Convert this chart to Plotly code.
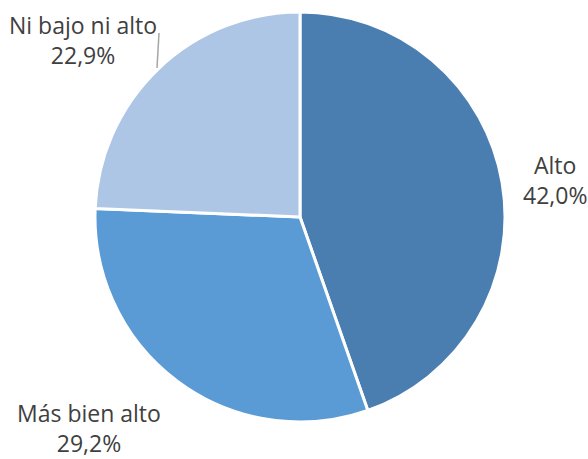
import plotly.graph_objects as go

labels = ["Alto", "Más bien alto", "Ni bajo ni alto"]
values = [42.0, 29.2, 22.9]
text_values = ["42,0%", "29,2%", "22,9%"]
colors = ["#4a7eb1", "#5b9bd5", "#adc6e6"]

W, H = 588, 459

def px_x(x):
    return x / W

def px_y(y):
    return 1 - y / H

fig = go.Figure(go.Pie(
    labels=labels, values=values, sort=False, direction="clockwise", rotation=0,
    marker=dict(colors=colors, line=dict(color="white", width=3)),
    textinfo="none", hoverinfo="label+percent", showlegend=False,
    domain=dict(x=[px_x(95), px_x(505)], y=[px_y(422), px_y(12)]),
))

label_pos = {"Alto": (555, 180), "Más bien alto": (89, 428), "Ni bajo ni alto": (83, 40)}
for lab, txt in zip(labels, text_values):
    px, py = label_pos[lab]
    fig.add_annotation(x=px_x(px), y=px_y(py), xref="paper", yref="paper",
                       xanchor="center", yanchor="middle",
                       text=f"{lab}<br>{txt}", showarrow=False, align="center",
                       font=dict(family="Open Sans, Noto Sans, sans-serif", size=23, color="#404040"))

fig.add_shape(type="line", xref="paper", yref="paper",
              x0=px_x(159), y0=px_y(33), x1=px_x(157), y1=px_y(68),
              line=dict(color="#a6a6a6", width=1.5))

fig.update_layout(width=W, height=H, margin=dict(l=0, r=0, t=0, b=0),
                  paper_bgcolor="white", plot_bgcolor="white")
fig.write_html("out.html", config={"displayModeBar": False},
               post_script="document.body.style.margin='0';document.body.style.overflow='hidden';")
